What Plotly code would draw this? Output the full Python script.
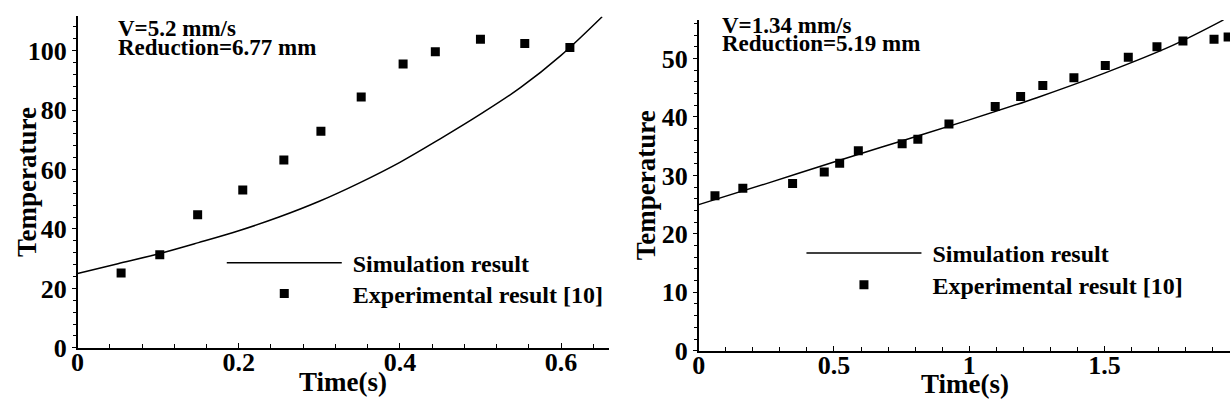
import plotly.graph_objects as go

# ---------------- data ----------------
# Left panel (V=5.2 mm/s)
sim1_t = [0, 0.05, 0.1, 0.15, 0.2, 0.25, 0.3, 0.35, 0.4, 0.45, 0.5, 0.55, 0.6, 0.651]
sim1_T = [25, 28.3, 31.6, 35.4, 39.4, 44.0, 49.3, 55.5, 62.4, 70.3, 78.6, 87.6, 98.4, 111.4]
exp1_t = [0.054, 0.102, 0.149, 0.205, 0.256, 0.302, 0.352, 0.404, 0.444, 0.500, 0.555, 0.611]
exp1_T = [25.2, 31.3, 44.8, 53.1, 63.2, 72.9, 84.4, 95.5, 99.6, 103.8, 102.4, 101.0]

# Right panel (V=1.34 mm/s)
sim2_t = [0, 0.25, 0.5, 0.75, 1.0, 1.25, 1.5, 1.75, 1.94]
sim2_T = [25, 28.6, 32.3, 35.9, 39.5, 43.3, 47.5, 52.2, 56.6]
exp2_t = [0.06, 0.163, 0.347, 0.464, 0.521, 0.59, 0.752, 0.81, 0.925, 1.096, 1.19,
          1.272, 1.387, 1.503, 1.588, 1.694, 1.79, 1.905, 1.957]
exp2_T = [26.5, 27.8, 28.6, 30.6, 32.1, 34.2, 35.4, 36.2, 38.8, 41.8, 43.5,
          45.4, 46.7, 48.8, 50.2, 52.0, 53.0, 53.3, 53.7]

x1_ticks = [0, 0.2, 0.4, 0.6]
x1_ticklabels = ["0", "0.2", "0.4", "0.6"]
y1_ticks = [0, 20, 40, 60, 80, 100]
x2_ticks = [0, 0.5, 1, 1.5]
x2_ticklabels = ["0", "0.5", "1", "1.5"]
y2_ticks = [0, 10, 20, 30, 40, 50]

sim_name = "Simulation result"
exp_name = "Experimental result [10]"
note1 = ["V=5.2 mm/s", "Reduction=6.77 mm"]
note2 = ["V=1.34 mm/s", "Reduction=5.19 mm"]
x_title = "Time(s)"
y_title = "Temperature"

# ---------------- layout helpers ----------------
W, H = 1230, 412
FONT = "Liberation Serif, Times New Roman, serif"
NBSP = "\u00a0"


def px(x):
    return x / W


def py(y):
    return 1 - y / H


fig = go.Figure()
fig.add_trace(go.Scatter(x=sim1_t, y=sim1_T, mode="lines", line=dict(color="black", width=1.5, shape="spline"),
                         name=NBSP + sim_name, xaxis="x", yaxis="y", legend="legend"))
fig.add_trace(go.Scatter(x=exp1_t, y=exp1_T, mode="markers", marker=dict(symbol="square", size=9, color="black"),
                         name=NBSP + exp_name, xaxis="x", yaxis="y", legend="legend2"))
fig.add_trace(go.Scatter(x=sim2_t, y=sim2_T, mode="lines", line=dict(color="black", width=1.5, shape="spline"),
                         name=NBSP + sim_name, xaxis="x2", yaxis="y2", legend="legend3"))
fig.add_trace(go.Scatter(x=exp2_t, y=exp2_T, mode="markers", marker=dict(symbol="square", size=9, color="black"),
                         name=NBSP + exp_name, xaxis="x2", yaxis="y2", legend="legend4"))

tickfont = dict(family=FONT, size=26, color="black", weight="bold")


def xaxis(domain, rng, ticks, labels, minor_dt, anchor):
    return dict(domain=domain, range=rng, tickvals=ticks, ticktext=labels, anchor=anchor,
                showline=True, linecolor="black", linewidth=1.5, showgrid=False, zeroline=False,
                ticks="inside", ticklen=5, tickwidth=1, tickcolor="black", tickfont=tickfont,
                ticklabelstandoff=-10,
                minor=dict(dtick=minor_dt, ticks="inside", ticklen=4, tickcolor="black", tickwidth=1, showgrid=False))


def yaxis(domain, rng, ticks, minor_dt, anchor):
    return dict(domain=domain, range=rng, tickvals=ticks, anchor=anchor,
                showline=True, linecolor="black", linewidth=1.5, showgrid=False, zeroline=False,
                ticks="outside", ticklen=4, tickwidth=1, tickcolor="black", tickfont=tickfont,
                ticklabelstandoff=0,
                minor=dict(dtick=minor_dt, ticks="outside", ticklen=3, tickcolor="black", tickwidth=1, showgrid=False))


legend_font = dict(family=FONT, size=24, color="black", weight="bold")


def legend_box(x_left, y_mid):
    return dict(x=px(x_left), y=py(y_mid), xanchor="left", yanchor="middle", bgcolor="rgba(0,0,0,0)",
                borderwidth=0, font=legend_font, itemwidth=115, tracegroupgap=0)


fig.update_layout(
    width=W, height=H, autosize=False, margin=dict(l=0, r=0, t=0, b=0),
    paper_bgcolor="white", plot_bgcolor="white",
    font=dict(family=FONT, color="black"),
    xaxis=xaxis([px(71), px(605)], [0, 0.659], x1_ticks, x1_ticklabels, 0.04, "y"),
    yaxis=yaxis([1 - 361 / H, 1 - 17 / H], [0, 111.5], y1_ticks, 4, "x"),
    xaxis2=xaxis([px(695.7), 1.0], [0, 1.964], x2_ticks, x2_ticklabels, 0.1, "y2"),
    yaxis2=yaxis([1 - 364 / H, 1 - 20.7 / H], [0, 56.6], y2_ticks, 2, "x2"),
    legend=legend_box(216, 273),
    legend2=legend_box(216, 305),
    legend3=legend_box(799, 263),
    legend4=legend_box(799, 296),
    showlegend=True,
)

ann_font = dict(family=FONT, size=23, color="black", weight="bold")
title_font = dict(family=FONT, size=27, color="black", weight="bold")
annotations = [
    dict(text=note1[0], x=px(110), y=py(30), xanchor="left", yanchor="middle"),
    dict(text=note1[1], x=px(110), y=py(49), xanchor="left", yanchor="middle"),
    dict(text=note2[0], x=px(717), y=py(26), xanchor="left", yanchor="middle"),
    dict(text=note2[1], x=px(717), y=py(45), xanchor="left", yanchor="middle"),
]
for a in annotations:
    a.update(xref="paper", yref="paper", showarrow=False, font=ann_font)
titles = [
    dict(text=x_title, x=px(338), y=py(396), xanchor="center", yanchor="middle"),
    dict(text=x_title, x=px(963), y=py(399), xanchor="center", yanchor="middle"),
    dict(text=y_title, x=px(20), y=py(189), xanchor="center", yanchor="middle", textangle=-90),
    dict(text=y_title, x=px(643), y=py(192), xanchor="center", yanchor="middle", textangle=-90),
]
for a in titles:
    a.update(xref="paper", yref="paper", showarrow=False, font=title_font)
fig.update_layout(annotations=annotations + titles)

fig.write_html("out.html", config={"displayModeBar": False},
               post_script="document.body.style.margin='0';document.body.style.overflow='hidden';")
